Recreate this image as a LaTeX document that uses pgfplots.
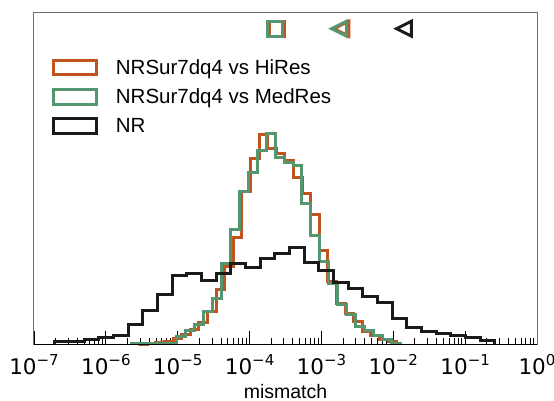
\documentclass[border=0pt]{standalone}
\usepackage{pgfplots}
\usepackage{pgfplotstable}
\pgfplotsset{compat=1.18}
\usepackage{fontspec}
\setmainfont{Liberation Sans}
\newfontfamily\dejavu{DejaVu Sans}
\definecolor{cOr}{RGB}{192,84,28}
\definecolor{cGr}{RGB}{84,150,112}
\definecolor{cBk}{RGB}{26,26,26}
\definecolor{cFrame}{RGB}{110,110,110}

\pgfdeclareplotmark{tril}{%
  \pgfpathmoveto{\pgfqpoint{-\pgfplotmarksize}{0pt}}%
  \pgfpathlineto{\pgfqpoint{\pgfplotmarksize}{-\pgfplotmarksize}}%
  \pgfpathlineto{\pgfqpoint{\pgfplotmarksize}{\pgfplotmarksize}}%
  \pgfpathclose\pgfusepathqstroke}

\pgfplotstableread{
e h
-5.543 0
-5.543 0.7
-5.423 1.2
-5.304 2.5
-5.184 3
-5.064 6
-4.945 10
-4.825 15
-4.705 22
-4.586 33
-4.466 55
-4.346 78.3
-4.226 107.7
-4.107 153.3
-3.987 186.7
-3.867 210
-3.748 196.7
-3.628 191.7
-3.508 184
-3.389 167.7
-3.269 151
-3.149 130
-3.030 94
-2.910 63.3
-2.790 41.7
-2.671 31.7
-2.551 23.3
-2.431 13.3
-2.312 9
-2.192 5.7
-2.072 3.3
-1.953 0
}\hires

\pgfplotstableread{
e h
-5.640 0
-5.640 1
-5.515 1
-5.391 1
-5.266 1.5
-5.141 1.5
-5.017 8.5
-4.892 14
-4.767 20.7
-4.642 33.3
-4.518 46.7
-4.393 81.7
-4.268 115.7
-4.144 153.3
-4.019 172.7
-3.894 194.3
-3.770 211
-3.645 187.7
-3.520 182.7
-3.395 179.3
-3.271 141
-3.146 109
-3.021 83.3
-2.897 61.7
-2.772 40.7
-2.647 30
-2.523 18.3
-2.398 14.3
-2.273 9
-2.149 5
-2.024 1
-1.899 0
}\medres

\pgfplotstableread{
e h
-6.708 0
-6.708 3
-6.504 3.5
-6.300 5
-6.096 7.3
-5.892 9
-5.688 20
-5.484 34
-5.279 50
-5.075 69
-4.871 71
-4.667 64
-4.463 71
-4.259 81.7
-4.055 77.3
-3.851 86.7
-3.647 91
-3.443 97.7
-3.239 82.7
-3.035 74
-2.831 62.3
-2.626 56
-2.422 48
-2.218 42
-2.014 26
-1.810 17
-1.606 13
-1.402 11
-1.198 9
-0.994 7
-0.790 4
-0.586 0
}\nr

\newcommand{\tl}[1]{10\raisebox{9pt}{\fontsize{15}{17}\selectfont #1}}

\begin{document}
\begin{tikzpicture}
\begin{axis}[
  scale only axis, width=503pt, height=332pt,
  xmin=-7, xmax=0, ymin=0, ymax=332,
  axis line style={draw=cFrame, line width=1pt},
  ytick=\empty,
  xtick={-7,-6,-5,-4,-3,-2,-1,0},
  xticklabels={\tl{−7},\tl{−6},\tl{−5},\tl{−4},\tl{−3},\tl{−2},\tl{−1},\tl{0}},
  minor xtick={-6.69897,-6.52288,-6.39794,-6.30103,-6.22185,-6.15490,-6.09691,-6.04576,
    -5.69897,-5.52288,-5.39794,-5.30103,-5.22185,-5.15490,-5.09691,-5.04576,
    -4.69897,-4.52288,-4.39794,-4.30103,-4.22185,-4.15490,-4.09691,-4.04576,
    -3.69897,-3.52288,-3.39794,-3.30103,-3.22185,-3.15490,-3.09691,-3.04576,
    -2.69897,-2.52288,-2.39794,-2.30103,-2.22185,-2.15490,-2.09691,-2.04576,
    -1.69897,-1.52288,-1.39794,-1.30103,-1.22185,-1.15490,-1.09691,-1.04576,
    -0.69897,-0.52288,-0.39794,-0.30103,-0.22185,-0.15490,-0.09691,-0.04576},
  tick align=inside, xtick pos=bottom,
  major tick length=14pt, minor tick length=7pt,
  every tick/.style={black, line width=0.9pt},
  xticklabel style={font=\dejavu\fontsize{21.5}{25}\selectfont, anchor=base, yshift=-30pt, inner sep=0pt},
  xlabel={mismatch},
  xlabel style={font=\fontsize{19.5}{23}\selectfont, at={(rel axis cs:0.5,0)}, anchor=base, yshift=-53pt},
  legend style={at={(rel axis cs:0,1)}, anchor=north west, xshift=17.7pt, yshift=-44pt,
    draw=none, fill=none, inner sep=0pt, font=\fontsize{20.5}{24}\selectfont,
    row sep=9pt, /tikz/every odd column/.append style={column sep=16pt}},
  legend cell align=left,
  legend image code/.code={\draw[#1, line width=3pt, line join=miter] (0pt,-7.3pt) rectangle (43pt,7.3pt);},
  clip=false,
]
\addplot[const plot, draw=cOr, line width=3pt, line join=miter] table[x=e, y=h] {\hires};
\addlegendentry{NRSur7dq4 vs HiRes}
\addplot[const plot, draw=cGr, line width=3pt, line join=miter] table[x=e, y=h] {\medres};
\addlegendentry{NRSur7dq4 vs MedRes}
\addplot[const plot, draw=cBk, line width=3pt, line join=miter] table[x=e, y=h] {\nr};
\addlegendentry{NR}
\addplot[only marks, mark=square, mark size=7.5pt, draw=cOr, mark options={line width=3pt, fill=none}, forget plot] coordinates {(-3.618,316.3)};
\addplot[only marks, mark=square, mark size=7.5pt, draw=cGr, mark options={line width=3pt, fill=none}, forget plot] coordinates {(-3.646,316.3)};
\addplot[only marks, mark=tril, mark size=7.5pt, draw=cOr, mark options={line width=3pt, fill=none, line join=miter}, forget plot] coordinates {(-2.721,316.3)};
\addplot[only marks, mark=tril, mark size=7.5pt, draw=cGr, mark options={line width=3pt, fill=none, line join=miter}, forget plot] coordinates {(-2.753,316.3)};
\addplot[only marks, mark=tril, mark size=7.5pt, draw=cBk, mark options={line width=3pt, fill=none, line join=miter}, forget plot] coordinates {(-1.851,316.3)};
\draw[black, line width=1pt] (rel axis cs:0,0) -- (rel axis cs:1,0);
\end{axis}
\pgfresetboundingbox
\path (current axis.south west) ++(-34pt,-56pt) rectangle ++(554pt,401pt);
\end{tikzpicture}
\end{document}
